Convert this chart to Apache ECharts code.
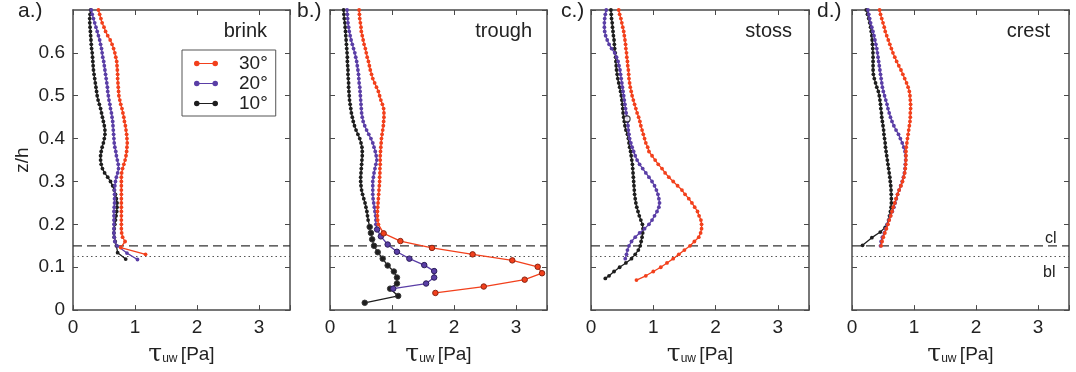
<!DOCTYPE html>
<html>
<head>
<meta charset="utf-8">
<script src="https://cdn.jsdelivr.net/npm/echarts@6/dist/echarts.min.js"></script>
<style>
  html, body { margin: 0; padding: 0; background: #fff; }
  #chart { width: 1076px; height: 372px; }
</style>
</head>
<body>
<div id="chart"></div>
<script>
// Sampling heights z/h of the fine profiles (top of the water column downwards)
const zGrid = [0.70, 0.69, 0.68, 0.67, 0.66, 0.65, 0.64, 0.63, 0.62, 0.61,
               0.60, 0.59, 0.58, 0.57, 0.56, 0.55, 0.54, 0.53, 0.52, 0.51,
               0.50, 0.49, 0.48, 0.47, 0.46, 0.45, 0.44, 0.43, 0.42, 0.41,
               0.40, 0.39, 0.38, 0.37, 0.36, 0.35, 0.34, 0.33, 0.32, 0.31,
               0.30, 0.29, 0.28, 0.27, 0.26, 0.25, 0.24, 0.23, 0.22, 0.21,
               0.20, 0.19, 0.18, 0.17, 0.16, 0.15, 0.14, 0.13, 0.12, 0.11,
               0.10, 0.09, 0.08, 0.07];

const panelNames = ['brink', 'trough', 'stoss', 'crest'];
const panelLetters = ['a.)', 'b.)', 'c.)', 'd.)'];
const seriesNames = ['30°', '20°', '10°'];
const xTicks = [0, 1, 2, 3];
const clLevel = 0.15;   // dashed line
const blLevel = 0.125;  // dotted line

// ---- a.) brink : shear stress on zGrid, then sparser near-bed points [tau, z]
const brink30 = [0.41,0.43,0.45,0.47,0.50,0.525,0.56,0.60,0.63,0.655,
                 0.675,0.69,0.705,0.71,0.715,0.72,0.72,0.725,0.73,0.735,
                 0.74,0.755,0.77,0.79,0.805,0.82,0.83,0.845,0.855,0.865,
                 0.87,0.875,0.87,0.865,0.855,0.84,0.82,0.80,0.785,0.78,
                 0.78,0.78,0.78,0.78,0.78,0.78,0.78,0.78,0.78,0.78,
                 0.78,0.78,0.785,0.80,0.84];
const brink30Tail = [[0.77,0.146],[1.17,0.13]];
const brink20 = [0.295,0.31,0.33,0.35,0.37,0.39,0.41,0.43,0.445,0.46,
                 0.47,0.48,0.495,0.505,0.515,0.525,0.535,0.545,0.555,0.56,
                 0.57,0.58,0.595,0.605,0.62,0.63,0.64,0.645,0.65,0.655,
                 0.66,0.665,0.675,0.69,0.70,0.715,0.73,0.735,0.72,0.70,
                 0.685,0.675,0.67,0.67,0.67,0.67,0.665,0.66,0.66,0.66,
                 0.66,0.66,0.66,0.665,0.675,0.71];
const brink20Tail = [[0.87,0.133],[1.04,0.118]];
const brink10 = [0.285,0.275,0.27,0.27,0.275,0.28,0.285,0.29,0.295,0.30,
                 0.31,0.315,0.32,0.325,0.33,0.34,0.35,0.36,0.37,0.38,
                 0.39,0.405,0.425,0.445,0.46,0.475,0.49,0.505,0.515,0.515,
                 0.505,0.49,0.47,0.455,0.445,0.445,0.455,0.475,0.51,0.56,
                 0.605,0.64,0.665,0.685,0.70,0.71,0.71,0.705,0.695,0.685,
                 0.675,0.665,0.66,0.665,0.68,0.70];
const brink10Tail = [[0.72,0.134],[0.85,0.119]];

// ---- b.) trough : fine profile plus coarse near-bed profile (large circles)
const trough30 = [0.47,0.475,0.48,0.49,0.50,0.505,0.52,0.535,0.55,0.57,
                  0.585,0.60,0.62,0.635,0.65,0.67,0.69,0.72,0.75,0.78,
                  0.80,0.82,0.845,0.865,0.87,0.87,0.865,0.86,0.85,0.84,
                  0.83,0.825,0.82,0.815,0.81,0.81,0.81,0.805,0.805,0.80,
                  0.80,0.795,0.79,0.785,0.78,0.775,0.77,0.765,0.765,0.77,
                  0.78];
const trough30Coarse = [[0.865,0.179],[1.135,0.161],[1.645,0.145],[2.30,0.13],
                        [2.94,0.116],[3.35,0.101],[3.42,0.086],[3.14,0.071],
                        [2.48,0.055],[1.70,0.040]];
const trough20 = [0.275,0.28,0.285,0.29,0.30,0.31,0.325,0.34,0.36,0.38,
                  0.40,0.415,0.43,0.44,0.45,0.46,0.465,0.47,0.48,0.485,
                  0.49,0.495,0.50,0.505,0.51,0.52,0.535,0.56,0.59,0.625,
                  0.66,0.69,0.71,0.73,0.745,0.755,0.74,0.725,0.71,0.70,
                  0.69,0.69,0.69,0.69,0.695,0.705,0.715,0.725,0.735,0.74,
                  0.74];
const trough20Coarse = [[0.76,0.188],[0.82,0.172],[0.93,0.153],[1.08,0.136],
                        [1.28,0.12],[1.52,0.105],[1.68,0.091],[1.68,0.076],
                        [1.55,0.062],[1.02,0.05]];
const trough10 = [0.22,0.225,0.23,0.24,0.245,0.25,0.255,0.26,0.265,0.27,
                  0.275,0.28,0.28,0.285,0.29,0.29,0.295,0.30,0.30,0.305,
                  0.31,0.315,0.325,0.335,0.345,0.36,0.375,0.395,0.42,0.45,
                  0.48,0.50,0.515,0.52,0.52,0.515,0.51,0.505,0.50,0.495,
                  0.495,0.50,0.51,0.525,0.545,0.565,0.58,0.595,0.605,0.615];
const trough10Coarse = [[0.64,0.194],[0.66,0.18],[0.68,0.165],[0.71,0.15],
                        [0.77,0.135],[0.85,0.12],[0.93,0.104],[1.03,0.09],
                        [1.08,0.076],[1.08,0.062],[0.97,0.05],[1.10,0.033],
                        [0.56,0.017]];

// ---- c.) stoss
const stoss30 = [0.445,0.46,0.48,0.495,0.51,0.525,0.535,0.545,0.555,0.56,
                 0.57,0.575,0.585,0.59,0.60,0.605,0.61,0.62,0.63,0.645,
                 0.66,0.68,0.70,0.72,0.74,0.765,0.785,0.80,0.82,0.84,
                 0.86,0.88,0.91,0.93,0.98,1.03,1.08,1.14,1.19,1.25,
                 1.32,1.39,1.46,1.51,1.57,1.62,1.665,1.71,1.735,1.765,
                 1.775,1.775,1.76,1.73,1.66,1.59,1.50,1.41,1.32,1.22,
                 1.12,1.00,0.88,0.73];
const stoss20 = [0.245,0.23,0.22,0.215,0.215,0.22,0.235,0.26,0.29,0.33,
                 0.38,0.41,0.435,0.45,0.465,0.475,0.485,0.495,0.505,0.515,
                 0.525,0.535,0.545,0.555,0.565,0.575,0.585,0.595,0.60,0.61,
                 0.62,0.64,0.66,0.685,0.71,0.74,0.78,0.83,0.88,0.93,
                 0.98,1.02,1.05,1.075,1.09,1.10,1.09,1.06,1.02,0.98,
                 0.93,0.86,0.78,0.71,0.65,0.61,0.585,0.57,0.55];
const stoss10 = [0.32,0.325,0.33,0.34,0.345,0.353,0.36,0.37,0.375,0.38,
                 0.39,0.395,0.40,0.405,0.41,0.42,0.43,0.445,0.46,0.475,
                 0.487,0.495,0.505,0.51,0.515,0.525,0.535,0.545,0.56,0.585,
                 0.60,0.61,0.62,0.635,0.645,0.655,0.665,0.67,0.675,0.68,
                 0.685,0.69,0.695,0.70,0.71,0.72,0.735,0.755,0.775,0.80,
                 0.825,0.835,0.83,0.82,0.805,0.79,0.76,0.71,0.65,0.56,
                 0.46,0.37,0.29];
const stoss10Tail = [[0.23,0.074]];
const stoss10Open = [[0.58,0.446]];

// ---- d.) crest
const crest30 = [0.445,0.46,0.48,0.50,0.52,0.536,0.56,0.585,0.61,0.635,
                 0.66,0.69,0.72,0.755,0.79,0.82,0.85,0.88,0.905,0.925,
                 0.935,0.94,0.945,0.945,0.94,0.94,0.935,0.925,0.915,0.905,
                 0.895,0.885,0.875,0.87,0.87,0.87,0.865,0.86,0.85,0.835,
                 0.815,0.79,0.76,0.735,0.71,0.69,0.665,0.645,0.625,0.60,
                 0.58,0.555,0.53,0.505,0.485,0.47];
const crest20 = [0.257,0.27,0.285,0.30,0.32,0.338,0.355,0.37,0.385,0.40,
                 0.41,0.42,0.43,0.44,0.45,0.46,0.47,0.48,0.49,0.505,
                 0.525,0.545,0.565,0.58,0.60,0.62,0.645,0.675,0.71,0.75,
                 0.78,0.81,0.835,0.855,0.865,0.865,0.86,0.855,0.845,0.83,
                 0.81,0.785,0.76,0.735,0.715,0.695,0.675,0.65,0.62,0.595,
                 0.57,0.545,0.52,0.49,0.47,0.46];
const crest10 = [0.23,0.25,0.27,0.285,0.30,0.31,0.32,0.325,0.33,0.335,
                 0.338,0.34,0.34,0.34,0.34,0.345,0.36,0.38,0.40,0.425,
                 0.44,0.45,0.46,0.465,0.475,0.48,0.49,0.50,0.51,0.515,
                 0.525,0.535,0.54,0.55,0.56,0.57,0.58,0.59,0.60,0.61,
                 0.617,0.625,0.63,0.633,0.635,0.635,0.63,0.62,0.605,0.59,
                 0.57];
const crest10Tail = [[0.536,0.193],[0.456,0.182],[0.32,0.169],[0.17,0.151]];

const colors = ['#f2401c', '#5a3ea6', '#1e1e1e'];
const coarseBorder = ['#8a2412', '#2c1e5a', '#3a3a3a'];

// pixel boxes of the four panels
const grids = [
  { left: 73,  top: 10, width: 217, height: 304 },
  { left: 330, top: 10, width: 217, height: 301 },
  { left: 591, top: 10, width: 218, height: 304 },
  { left: 852, top: 10, width: 217, height: 304 }
];

const panelData = [
  [[brink30, brink30Tail, []], [brink20, brink20Tail, []], [brink10, brink10Tail, []]],
  [[trough30, [], trough30Coarse], [trough20, [], trough20Coarse], [trough10, [], trough10Coarse]],
  [[stoss30, [], []], [stoss20, [], []], [stoss10, stoss10Tail, []]],
  [[crest30, [], []], [crest20, [], []], [crest10, crest10Tail, []]]
];

function buildProfile(xs, tail, coarse, k) {
  const pts = xs.map((x, i) => [x, zGrid[i]]);
  tail.forEach(p => pts.push([p[0], p[1]]));
  coarse.forEach(p => pts.push({
    value: [p[0], p[1]],
    symbolSize: 5.5,
    itemStyle: { color: colors[k], borderColor: coarseBorder[k], borderWidth: 1 }
  }));
  return pts;
}

const axisColor = '#4a4a4a';
const fontFamily = '"Liberation Sans", Arial, Helvetica, sans-serif';
const xAxes = [], yAxes = [], series = [];

grids.forEach((g, gi) => {
  xAxes.push({
    gridIndex: gi, type: 'value', min: 0, max: 3.5, interval: 1,
    axisLine: { show: true, onZero: false, lineStyle: { color: axisColor, width: 1.5 } },
    axisTick: { show: true, inside: true, length: 5, lineStyle: { color: axisColor, width: 1 } },
    axisLabel: { show: true, fontSize: 19, color: '#222', margin: 8, fontFamily,
                 customValues: xTicks, formatter: v => String(v) },
    splitLine: { show: false },
    name: '{t|τ}{s|uw} {n|[Pa]}',
    nameLocation: 'middle', nameGap: 31,
    nameTextStyle: {
      rich: {
        t: { fontSize: 25, color: '#222', fontFamily: '"DejaVu Serif", serif', verticalAlign: 'bottom' },
        s: { fontSize: 12, color: '#222', fontFamily, padding: [8, 0, 0, 0] },
        n: { fontSize: 19, color: '#222', fontFamily }
      }
    }
  });
  xAxes.push({
    gridIndex: gi, type: 'value', min: 0, max: 3.5, interval: 1, position: 'top',
    axisLine: { show: true, onZero: false, lineStyle: { color: axisColor, width: 1.5 } },
    axisTick: { show: true, inside: true, length: 5, lineStyle: { color: axisColor, width: 1 } },
    axisLabel: { show: false }, splitLine: { show: false }
  });
  yAxes.push({
    gridIndex: gi, type: 'value', min: 0, max: 0.7, interval: 0.1,
    axisLine: { show: true, onZero: false, lineStyle: { color: axisColor, width: 1.5 } },
    axisTick: { show: true, inside: true, length: 5, lineStyle: { color: axisColor, width: 1 } },
    axisLabel: {
      show: gi === 0, fontSize: 19, color: '#222', margin: 8, fontFamily,
      showMaxLabel: false,
      formatter: v => (v === 0 ? '0' : v.toFixed(1))
    },
    splitLine: { show: false },
    name: gi === 0 ? 'z/h' : '',
    nameLocation: 'middle', nameGap: 41,
    nameTextStyle: { fontSize: 19, color: '#222', fontFamily }
  });
  yAxes.push({
    gridIndex: gi, type: 'value', min: 0, max: 0.7, interval: 0.1, position: 'right',
    axisLine: { show: true, onZero: false, lineStyle: { color: axisColor, width: 1.5 } },
    axisTick: { show: true, inside: true, length: 5, lineStyle: { color: axisColor, width: 1 } },
    axisLabel: { show: false }, splitLine: { show: false }
  });

  const xi = gi * 2, yi = gi * 2;

  // reference levels: dashed (cl) and dotted (bl)
  series.push({
    type: 'line', xAxisIndex: xi, yAxisIndex: yi, symbol: 'none', silent: true,
    data: [[0, clLevel], [3.5, clLevel]],
    lineStyle: { color: '#333', width: 1.3, type: [9, 5] }, z: 1
  });
  series.push({
    type: 'line', xAxisIndex: xi, yAxisIndex: yi, symbol: 'none', silent: true,
    data: [[0, blLevel], [3.5, blLevel]],
    lineStyle: { color: '#555', width: 1.1, type: [1.5, 3] }, z: 1
  });

  panelData[gi].forEach((spec, k) => {
    series.push({
      name: seriesNames[k], type: 'line', xAxisIndex: xi, yAxisIndex: yi,
      data: buildProfile(spec[0], spec[1], spec[2], k),
      color: colors[k],
      symbol: 'circle', symbolSize: 3.8, showSymbol: true,
      lineStyle: { color: colors[k], width: 1.3 },
      itemStyle: { color: colors[k] },
      clip: true, animation: false, z: 5 - k
    });
  });
});

// isolated open marker on the 10° stoss profile
series.push({
  type: 'scatter', xAxisIndex: 4, yAxisIndex: 4, data: stoss10Open,
  symbol: 'circle', symbolSize: 6,
  itemStyle: { color: '#ffffff', borderColor: '#1e1e1e', borderWidth: 1.2 }, z: 10
});

const graphics = [];
const letterX = [18, 297, 561, 817];
panelLetters.forEach((t, i) => graphics.push({
  type: 'text', left: letterX[i], top: 1,
  style: { text: t, font: '21px ' + fontFamily, fill: '#222' }
}));
const titleRight = [267, 532, 792, 1050];
panelNames.forEach((t, i) => graphics.push({
  type: 'text', x: titleRight[i], y: 21,
  style: { text: t, font: '20px ' + fontFamily, fill: '#222', textAlign: 'right' }
}));
graphics.push({ type: 'text', x: 1045, y: 231, style: { text: 'cl', font: '16px ' + fontFamily, fill: '#222' } });
graphics.push({ type: 'text', x: 1043, y: 265, style: { text: 'bl', font: '16px ' + fontFamily, fill: '#222' } });

// legend key: line segment with a marker at each end
const legendIcon = 'path://M3,3.4h20v1.2h-20z M6,4a3,3 0 1,1 -6,0a3,3 0 1,1 6,0z M26,4a3,3 0 1,1 -6,0a3,3 0 1,1 6,0z';

const chart = echarts.init(document.getElementById('chart'), null, { renderer: 'canvas' });
chart.setOption({
  animation: false,
  backgroundColor: '#ffffff',
  textStyle: { fontFamily },
  grid: grids.map(g => Object.assign({ containLabel: false }, g)),
  xAxis: xAxes,
  yAxis: yAxes,
  legend: {
    data: seriesNames.map(n => ({ name: n, icon: legendIcon })),
    orient: 'vertical', left: 182, top: 50,
    borderColor: '#555', borderWidth: 1, padding: [4, 8, 3, 12],
    itemWidth: 24, itemHeight: 6, itemGap: 1,
    textStyle: { fontSize: 19, color: '#222', fontFamily, padding: [0, 0, 0, 16] },
    backgroundColor: '#fff'
  },
  graphic: graphics,
  series
});
</script>
</body>
</html>
